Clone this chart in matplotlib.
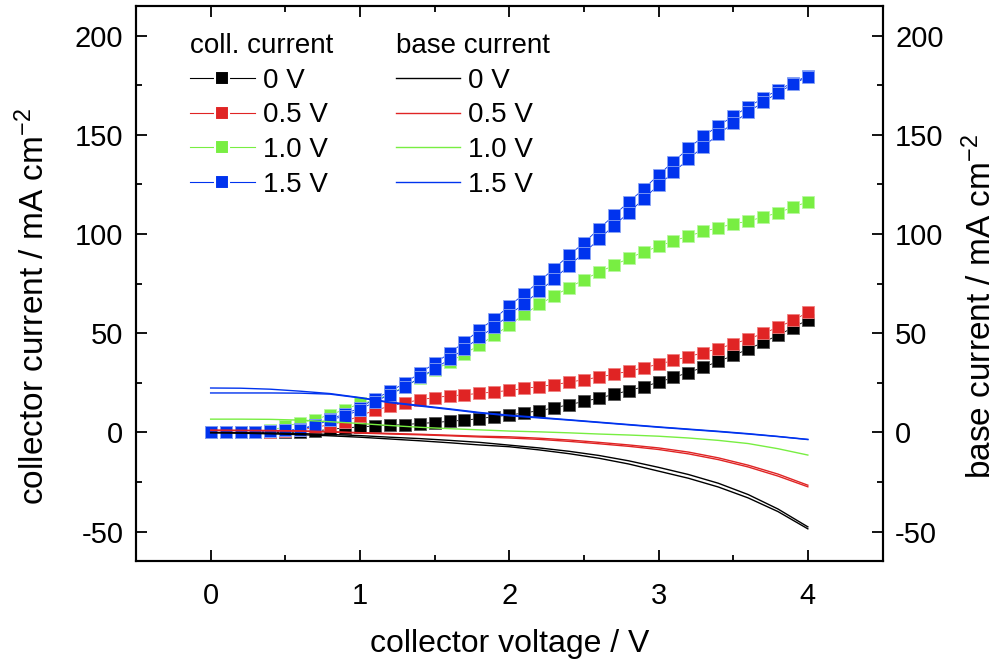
import matplotlib
matplotlib.use("Agg")
import matplotlib.pyplot as plt
from matplotlib.lines import Line2D
from matplotlib.ticker import MultipleLocator

plt.rcParams['font.family'] = ['Liberation Sans', 'DejaVu Sans']
plt.rcParams['mathtext.fontset'] = 'custom'
plt.rcParams['mathtext.rm'] = 'Liberation Sans'
plt.rcParams['mathtext.default'] = 'regular'
plt.rcParams['axes.unicode_minus'] = False

# ---------------- data ----------------
x_coll = [round(0.1 * i, 1) for i in range(41)]

coll_0V = [0, 0, 0, 0, 0, 0, 0.2, 0.8, 1.5, 2.3, 2.8, 3.3, 3.6, 4.0, 4.5, 5.0, 5.6, 6.2, 7.0, 7.9,
           8.8, 9.8, 11.0, 12.4, 14.0, 15.6, 17.3, 19.2, 21.1, 23.1, 25.3, 27.7, 30.2, 32.9, 35.8,
           38.8, 42.0, 45.4, 49.0, 52.8, 56.8]
coll_05V = [0, 0, 0, 0, 0.2, 0.5, 1.2, 2.5, 4.0, 5.5, 8.4, 11.2, 13.2, 15.0, 16.4, 17.6, 18.4, 19.0,
            19.7, 20.4, 21.2, 22.2, 23.1, 24.1, 25.3, 26.6, 27.9, 29.3, 30.9, 32.6, 34.4, 36.3, 38.2,
            40.2, 42.3, 44.6, 47.1, 49.9, 53.0, 56.5, 60.5]
coll_10V = [0, 0, 0, 0.2, 1.0, 3.0, 5.0, 6.5, 9.0, 11.5, 14.6, 16.0, 19.5, 23.0, 27.3, 31.5, 35.5,
            39.7, 44.0, 49.0, 54.0, 59.5, 64.5, 68.8, 73.0, 77.0, 80.8, 84.2, 87.8, 91.0, 93.8, 96.5,
            99.0, 101.3, 103.3, 105.0, 106.6, 108.5, 110.8, 113.5, 116.3]
coll_15V_fwd = [0, 0, 0, 0, 0.5, 1, 1.6, 3.9, 7.0, 9.2, 12.5, 16.9, 20.7, 24.8, 29.9, 34.8, 40.0,
                45.6, 51.7, 57.3, 63.8, 69.8, 76.1, 82.6, 89.3, 95.6, 102.6, 109.4, 116.2, 122.7,
                129.9, 136.5, 143.2, 149.3, 154.6, 159.4, 164.1, 168.5, 172.7, 176.3, 179.8]
coll_15V_rev = [0, 0, 0, 0, 0.5, 1, 1.4, 3.5, 6.4, 8.2, 11.5, 15.5, 19.1, 22.8, 27.7, 32.0, 37.0,
                42.2, 47.9, 53.3, 59.2, 65.0, 71.1, 77.4, 84.1, 90.4, 97.4, 104.2, 110.8, 117.7,
                124.8, 131.1, 137.8, 144.1, 150.2, 156.0, 161.5, 166.5, 171.3, 175.5, 179.4]

x_base = [round(0.2 * i, 1) for i in range(21)]
base_0V_a = [0, -0.1, -0.3, -0.6, -1.0, -1.6, -2.4, -3.1, -4.0, -5.0, -6.4, -7.8, -9.5, -11.6,
             -14.3, -17.6, -21.2, -25.6, -31.3, -38.6, -47.6]
base_0V_b = [-0.2, -0.4, -0.7, -1.1, -1.7, -2.4, -3.3, -4.2, -5.2, -6.3, -7.2, -8.8, -10.7, -13.0,
             -15.9, -19.5, -23.1, -27.5, -33.0, -39.9, -48.6]
base_05V_a = [1.2, 1.1, 1.0, 0.8, 0.4, -0.1, -0.5, -0.9, -1.4, -1.9, -2.2, -2.9, -3.8, -5.0, -6.3,
              -7.8, -9.9, -12.8, -16.5, -21.0, -26.6]
base_05V_b = [1.0, 0.9, 0.8, 0.6, 0.2, -0.3, -0.8, -1.2, -1.7, -2.3, -2.8, -3.5, -4.5, -5.7, -7.0,
              -8.6, -10.8, -13.7, -17.4, -22.0, -27.4]
base_10V = [6.7, 6.7, 6.6, 6.2, 5.4, 4.5, 3.5, 2.6, 1.9, 1.3, 0.7, 0.3, -0.2, -0.8, -1.3, -1.9,
            -2.8, -4.0, -5.6, -8.2, -11.4]
base_15V_a = [22.4, 22.3, 21.8, 20.8, 19.6, 17.6, 15.3, 13.6, 11.9, 10.1, 8.7, 7.6, 6.4, 5.2, 4.0,
              2.8, 1.7, 0.6, -0.6, -2.0, -3.5]
base_15V_b = [19.9, 19.9, 19.9, 19.8, 19.3, 17.4, 15.0, 13.3, 11.6, 9.8, 8.4, 7.3, 6.2, 5.0, 3.8,
              2.6, 1.5, 0.4, -0.8, -2.1, -3.6]

labels = ['0 V', '0.5 V', '1.0 V', '1.5 V']
colors = ['#000000', '#e02424', '#78ee42', '#0033ee']
edge_colors = ['#555555', '#f08080', '#b8f8a0', '#8aa4f4']

# ---------------- figure ----------------
fig = plt.figure(figsize=(10, 6.62), dpi=100)
ax = fig.add_axes([0.136, 0.152, 0.7465, 0.839])
ax2 = ax.twinx()

coll_sets = [[coll_0V], [coll_05V], [coll_10V], [coll_15V_fwd, coll_15V_rev]]
for series, c, ec in zip(coll_sets, colors, edge_colors):
    for ys in series:
        ax.plot(x_coll, ys, color=c, lw=0.6, marker='s', ms=8.4, mfc=c, mec=ec, mew=0.6)

base_sets = [[base_0V_a, base_0V_b], [base_05V_a, base_05V_b], [base_10V], [base_15V_a, base_15V_b]]
for series, c in zip(base_sets, colors):
    for ys in series:
        ax2.plot(x_base, ys, color=c, lw=1.0)

for a in (ax, ax2):
    a.set_xlim(-0.5, 4.5)
    a.set_ylim(-65, 215)
    for s in a.spines.values():
        s.set_linewidth(1.5)

ax.xaxis.set_major_locator(MultipleLocator(1))
ax.xaxis.set_minor_locator(MultipleLocator(0.5))
ax.yaxis.set_major_locator(MultipleLocator(50))
ax.yaxis.set_minor_locator(MultipleLocator(25))
ax2.yaxis.set_major_locator(MultipleLocator(50))
ax2.yaxis.set_minor_locator(MultipleLocator(25))

ax.tick_params(axis='both', which='both', direction='in', top=True, width=1.3, labelsize=21)
ax.tick_params(axis='both', which='major', length=8)
ax.tick_params(axis='both', which='minor', length=4.5)
ax.tick_params(axis='x', pad=15)
ax.tick_params(axis='y', pad=9, right=False)
ax2.tick_params(axis='y', which='both', direction='in', width=1.3, labelsize=21, pad=9)
ax2.tick_params(axis='y', which='major', length=8)
ax2.tick_params(axis='y', which='minor', length=4.5)

ax.set_xlabel('collector voltage / V', fontsize=23)
ax.xaxis.set_label_coords(0.5, -0.122)
ax.set_ylabel('collector current / mA cm$^{-2}$', fontsize=24)
ax.yaxis.set_label_coords(-0.114, 0.458)
ax2.set_ylabel('base current / mA cm$^{-2}$', fontsize=24)
ax2.yaxis.set_label_coords(1.109, 0.458)

# ---------------- legends ----------------
h1 = [Line2D([], [], color=c, lw=0.8, marker='s', ms=9.5, mfc=c, mec='white', mew=1.5)
      for c in colors]
leg1 = ax2.legend(h1, labels, title='coll. current', loc='upper left',
                  bbox_to_anchor=(0.0723, 0.951), frameon=False, fontsize=20, title_fontsize=20,
                  alignment='left', borderpad=0, borderaxespad=0, handlelength=2.34,
                  handletextpad=0.3, labelspacing=0.31, numpoints=1)
ax2.add_artist(leg1)
h2 = [Line2D([], [], color=c, lw=1.0) for c in colors]
ax2.legend(h2, labels, title='base current', loc='upper left',
           bbox_to_anchor=(0.348, 0.951), frameon=False, fontsize=20, title_fontsize=20,
           alignment='left', borderpad=0, borderaxespad=0, handlelength=2.3,
           handletextpad=0.3, labelspacing=0.31)

fig.savefig('out.png', dpi=100)
